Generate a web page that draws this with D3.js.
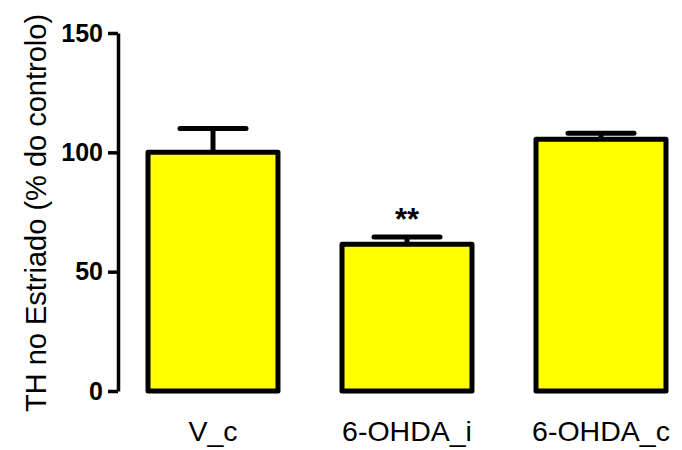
<!DOCTYPE html>
<html><head><meta charset="utf-8">
<script src="https://cdn.jsdelivr.net/npm/d3@7"></script>
<style>body{margin:0;background:#fff}svg{display:block}</style>
</head><body>
<script>
const categories = ["V_c", "6-OHDA_i", "6-OHDA_c"];
const values = [100, 61.5, 105.5];
const errors = [10, 3, 2.5];
const annotations = ["", "**", ""];
const yTicks = [0, 50, 100, 150];
const yLabel = "TH no Estriado (% do controlo)";

const W = 682, H = 450;
const FONT = "Arial, 'Liberation Sans', sans-serif";
const svg = d3.select("body").append("svg").attr("width", W).attr("height", H);
const y = d3.scaleLinear().domain([0, 150]).range([391, 33]);
const x = d3.scaleBand().domain(categories).range([116, 698]).paddingInner(0.33).paddingOuter(0.165);

// bars
svg.selectAll("rect.bar").data(categories).enter().append("rect")
  .attr("x", d => x(d)).attr("width", x.bandwidth())
  .attr("y", (d, i) => y(values[i])).attr("height", (d, i) => y(0) - y(values[i]))
  .attr("fill", "#ffff00").attr("stroke", "#000").attr("stroke-width", 5)
  .attr("stroke-linejoin", "round");

// error bars
const eg = svg.append("g").attr("stroke", "#000").attr("stroke-width", 5).attr("stroke-linecap", "round");
categories.forEach((c, i) => {
  const cx = x(c) + x.bandwidth() / 2;
  eg.append("line").attr("x1", cx).attr("x2", cx).attr("y1", y(values[i])).attr("y2", y(values[i] + errors[i])).attr("stroke-linecap", "butt");
  eg.append("line").attr("x1", cx - 33).attr("x2", cx + 33).attr("y1", y(values[i] + errors[i])).attr("y2", y(values[i] + errors[i]));
  if (annotations[i]) {
    svg.append("text").attr("x", cx).attr("y", y(values[i] + errors[i]) - 7)
      .attr("text-anchor", "middle").attr("font-family", FONT)
      .attr("font-weight", "bold").attr("font-size", 31).text(annotations[i]);
  }
});

// y axis
const ya = svg.append("g").attr("transform", "translate(118,0)")
  .call(d3.axisLeft(y).tickValues(yTicks).tickSize(10).tickSizeOuter(0).tickPadding(5));
ya.select(".domain").attr("stroke", "#000").attr("stroke-width", 3.5);
ya.selectAll(".tick line").attr("stroke", "#000").attr("stroke-width", 3.5);
ya.selectAll(".tick text").attr("font-family", FONT)
  .attr("font-weight", "bold").attr("font-size", 25).attr("fill", "#000");

// x labels
svg.selectAll("text.xl").data(categories).enter().append("text")
  .attr("x", d => x(d) + x.bandwidth() / 2).attr("y", 441)
  .attr("text-anchor", "middle").attr("font-family", FONT)
  .attr("font-size", 28.5).attr("fill", "#000").text(d => d);

// y label
svg.append("text").attr("transform", "translate(46,213) rotate(-90)")
  .attr("text-anchor", "middle").attr("font-family", FONT)
  .attr("font-size", 29).attr("fill", "#000").text(yLabel);
</script>
</body></html>
